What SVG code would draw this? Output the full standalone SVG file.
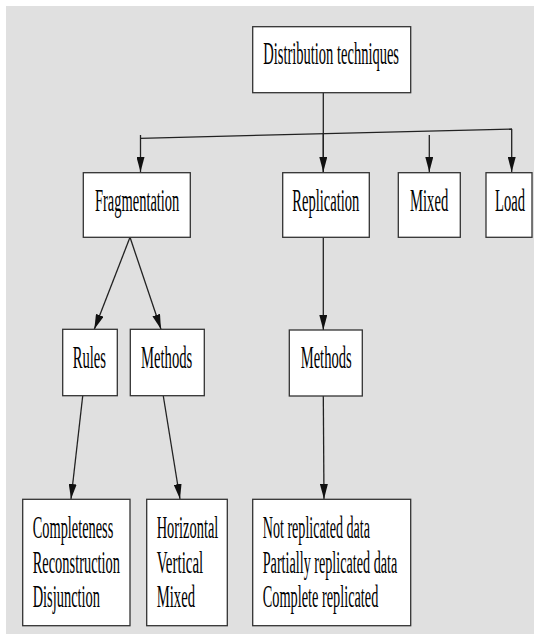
<svg xmlns="http://www.w3.org/2000/svg" width="534" height="634" viewBox="0 0 534 634">
  <style>
    .box { fill: #ffffff; stroke: #333333; stroke-width: 1.3; }
    .lbl { font-family: "Liberation Serif", "Times New Roman", serif; font-size: 31px; fill: #000000; }
    .edge { fill: none; stroke: #222222; stroke-width: 1.3; }
    .arrow { marker-end: url(#head); }
  </style>
  <defs>
    <marker id="head" markerUnits="userSpaceOnUse" markerWidth="16" markerHeight="8" refX="15" refY="4" orient="auto">
      <path d="M0,0 L15,4 L0,8 z" fill="#111111"/>
    </marker>
  </defs>

  <!-- page background -->
  <rect x="0" y="0" width="534" height="634" fill="#ffffff"/>
  <rect x="6" y="6" width="528" height="628" fill="#e0e0e0"/>

  <!-- connectors -->
  <g id="connectors">
    <line class="edge" x1="323.3" y1="92.7" x2="323.3" y2="172"/>
    <line class="edge" x1="140" y1="138.3" x2="512" y2="129"/>
    <line class="edge arrow" x1="323.3" y1="133.5" x2="323.3" y2="172"/>
    <line class="edge arrow" x1="140.5" y1="135" x2="140.5" y2="172"/>
    <line class="edge arrow" x1="429.3" y1="135" x2="429.3" y2="172"/>
    <line class="edge arrow" x1="511.7" y1="129" x2="511.7" y2="172"/>
    <line class="edge arrow" x1="130" y1="237.3" x2="94.3" y2="329.3"/>
    <line class="edge arrow" x1="130" y1="237.3" x2="161" y2="329.3"/>
    <line class="edge arrow" x1="323.3" y1="237.3" x2="323.3" y2="330"/>
    <line class="edge arrow" x1="82.7" y1="396" x2="71" y2="499"/>
    <line class="edge arrow" x1="163.3" y1="396" x2="180" y2="499"/>
    <line class="edge arrow" x1="323.3" y1="396" x2="324" y2="499"/>
  </g>

  <!-- labels are set in a narrow face: horizontal scale 0.47 -->
  <g id="distribution-techniques">
    <rect class="box" x="252.7" y="26.7" width="158" height="66"/>
    <text class="lbl" transform="translate(263.3 64.3) scale(0.47 1)" textLength="288.7" lengthAdjust="spacingAndGlyphs">Distribution techniques</text>
  </g>

  <g id="fragmentation">
    <rect class="box" x="83.3" y="172.7" width="107" height="64.6"/>
    <text class="lbl" transform="translate(95 210.7) scale(0.47 1)" textLength="179.4" lengthAdjust="spacingAndGlyphs">Fragmentation</text>
  </g>

  <g id="replication">
    <rect class="box" x="282.7" y="172.7" width="86.6" height="64.6"/>
    <text class="lbl" transform="translate(292.3 210.7) scale(0.47 1)" textLength="142.6" lengthAdjust="spacingAndGlyphs">Replication</text>
  </g>

  <g id="mixed">
    <rect class="box" x="398.3" y="172.7" width="62" height="64.6"/>
    <text class="lbl" transform="translate(410 210.7) scale(0.47 1)" textLength="81.5" lengthAdjust="spacingAndGlyphs">Mixed</text>
  </g>

  <g id="load">
    <rect class="box" x="486" y="172.7" width="46" height="64.6"/>
    <text class="lbl" transform="translate(495 210.7) scale(0.47 1)" textLength="63.8" lengthAdjust="spacingAndGlyphs">Load</text>
  </g>

  <g id="frag-rules">
    <rect class="box" x="62.7" y="329.3" width="54.6" height="66.4"/>
    <text class="lbl" transform="translate(72.7 368.3) scale(0.47 1)" textLength="70.9" lengthAdjust="spacingAndGlyphs">Rules</text>
  </g>

  <g id="frag-methods">
    <rect class="box" x="130.3" y="329.3" width="74" height="66.4"/>
    <text class="lbl" transform="translate(141 368.3) scale(0.47 1)" textLength="109.1" lengthAdjust="spacingAndGlyphs">Methods</text>
  </g>

  <g id="repl-methods">
    <rect class="box" x="289.3" y="330" width="73" height="66"/>
    <text class="lbl" transform="translate(300.7 368) scale(0.47 1)" textLength="108.5" lengthAdjust="spacingAndGlyphs">Methods</text>
  </g>

  <g id="rules-list">
    <rect class="box" x="22.7" y="499.3" width="107.3" height="126.4"/>
    <text class="lbl" transform="translate(32.7 538.3) scale(0.47 1)" textLength="171.5" lengthAdjust="spacingAndGlyphs">Completeness</text>
    <text class="lbl" transform="translate(32.7 573.3) scale(0.47 1)" textLength="185.7" lengthAdjust="spacingAndGlyphs">Reconstruction</text>
    <text class="lbl" transform="translate(32.7 606.7) scale(0.47 1)" textLength="143.2" lengthAdjust="spacingAndGlyphs">Disjunction</text>
  </g>

  <g id="frag-methods-list">
    <rect class="box" x="146.7" y="499.3" width="80.6" height="126.4"/>
    <text class="lbl" transform="translate(156.7 538.3) scale(0.47 1)" textLength="131.1" lengthAdjust="spacingAndGlyphs">Horizontal</text>
    <text class="lbl" transform="translate(156.7 573.3) scale(0.47 1)" textLength="99.1" lengthAdjust="spacingAndGlyphs">Vertical</text>
    <text class="lbl" transform="translate(156.7 606.7) scale(0.47 1)" textLength="81.5" lengthAdjust="spacingAndGlyphs">Mixed</text>
  </g>

  <g id="repl-methods-list">
    <rect class="box" x="252.7" y="499.3" width="158" height="126.4"/>
    <text class="lbl" transform="translate(262.7 538.3) scale(0.47 1)" textLength="228.3" lengthAdjust="spacingAndGlyphs">Not replicated data</text>
    <text class="lbl" transform="translate(262.7 573.3) scale(0.47 1)" textLength="286.4" lengthAdjust="spacingAndGlyphs">Partially replicated data</text>
    <text class="lbl" transform="translate(262.7 606.7) scale(0.47 1)" textLength="246" lengthAdjust="spacingAndGlyphs">Complete replicated</text>
  </g>
</svg>
